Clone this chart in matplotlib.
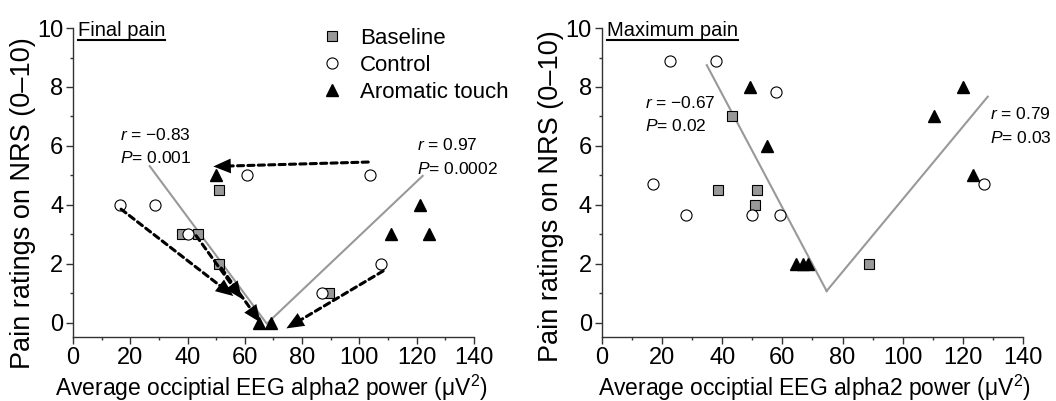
import matplotlib
matplotlib.use("Agg")
import matplotlib.pyplot as plt
from matplotlib.ticker import MultipleLocator
from matplotlib.lines import Line2D

plt.rcParams['font.family'] = ['Liberation Sans', 'DejaVu Sans']
plt.rcParams['mathtext.fontset'] = 'custom'
plt.rcParams['mathtext.rm'] = 'Liberation Sans'
plt.rcParams['mathtext.it'] = 'Liberation Sans:italic'

# ---- Final pain (left panel) ----
fin_base_x = [37.9, 43.7, 51.0, 51.0, 89.4]
fin_base_y = [3.0, 3.0, 4.5, 2.0, 1.0]
fin_ctrl_x = [16.5, 28.5, 40.2, 60.9, 103.7, 107.7, 86.8]
fin_ctrl_y = [4.0, 4.0, 3.0, 5.0, 5.0, 2.0, 1.0]
fin_aroma_x = [49.8, 121.1, 110.9, 124.3, 64.8, 69.0]
fin_aroma_y = [5.0, 4.0, 3.0, 3.0, 0.0, 0.0]
fin_fit_neg_x = [26.8, 67.6]
fin_fit_neg_y = [5.31, -0.03]
fin_fit_pos_x = [68.1, 122.1]
fin_fit_pos_y = [0.0, 4.98]
# arrows: (start x, start y, end x, end y)
fin_arrows = [
    (103.1, 5.45, 49.0, 5.30),
    (16.8, 3.85, 56.0, 0.90),
    (43.0, 2.95, 59.0, 0.80),
    (51.8, 1.85, 65.5, 0.00),
    (108.3, 1.75, 74.5, -0.20),
]
fin_stats = [("−0.83", "0.001", 16.4, 6.37), ("0.97", "0.0002", 120.0, 6.02)]

# ---- Maximum pain (right panel) ----
max_base_x = [43.4, 38.5, 51.5, 50.9, 88.9]
max_base_y = [7.0, 4.5, 4.5, 4.0, 2.0]
max_ctrl_x = [22.7, 37.8, 57.8, 16.9, 28.0, 49.8, 59.2, 127.0]
max_ctrl_y = [8.87, 8.87, 7.84, 4.71, 3.66, 3.66, 3.66, 4.71]
max_aroma_x = [49.2, 55.0, 120.1, 110.3, 123.4, 64.4, 67.0, 68.6]
max_aroma_y = [8.0, 6.0, 8.0, 7.0, 5.0, 2.0, 2.0, 2.0]
max_fit_neg_x = [34.9, 74.7]
max_fit_neg_y = [8.74, 1.07]
max_fit_pos_x = [74.7, 128.2]
max_fit_pos_y = [1.07, 7.67]
max_stats = [("−0.67", "0.02", 14.4, 7.47), ("0.79", "0.03", 129.0, 7.07)]

xlabel = "Average occiptial EEG alpha2 power (μV$^2$)"
ylabel = "Pain ratings on NRS (0–10)"

fig = plt.figure(figsize=(10.56, 4.01), dpi=100)
ax1 = fig.add_axes([0.0691, 0.159, 0.3797, 0.771])
ax2 = fig.add_axes([0.5698, 0.159, 0.3992, 0.771])

sq = dict(marker='s', ms=7, mfc='#999999', mec='black', mew=0.8, ls='none')
ci = dict(marker='o', ms=8, mfc='white', mec='black', mew=0.8, ls='none')
tr = dict(marker='^', ms=9, mfc='black', mec='black', ls='none')
fitstyle = dict(color='#999999', lw=1.5)


def style_axes(ax, title, ylab_x, ylab_y, xlab_x):
    ax.set_xlim(0, 140)
    ax.set_ylim(-0.5, 10)
    ax.xaxis.set_major_locator(MultipleLocator(20))
    ax.xaxis.set_minor_locator(MultipleLocator(10))
    ax.yaxis.set_major_locator(MultipleLocator(2))
    ax.yaxis.set_minor_locator(MultipleLocator(1))
    ax.spines['top'].set_visible(False)
    ax.spines['right'].set_visible(False)
    for s in ('left', 'bottom'):
        ax.spines[s].set_linewidth(1.0)
        ax.spines[s].set_color('#333333')
    ax.tick_params(which='major', length=5, width=1, labelsize=17, pad=2, color='#333333')
    ax.tick_params(which='minor', length=2.5, width=1, color='#333333')
    ax.set_xlabel(xlabel, fontsize=16.5)
    ax.set_ylabel(ylabel, fontsize=19.5)
    ax.xaxis.label.set_va('center')
    ax.yaxis.label.set_va('center')
    ax.xaxis.set_label_coords(xlab_x, -0.163)
    ax.yaxis.set_label_coords(ylab_x, ylab_y)
    t = ax.text(1.7, 9.72, title, fontsize=14.5, va='baseline', ha='left')
    return t


def add_stats(ax, stats):
    for r, p, x, y in stats:
        ax.text(x, y, r"$\mathit{r}$ = " + r, fontsize=12.5, va='center', ha='left', clip_on=False)
        ax.text(x, y - 0.79, r"$\mathit{P}$= " + p, fontsize=12.5, va='center', ha='left', clip_on=False)


def add_arrow(ax, x0, y0, x1, y1):
    # dashed shaft
    ax.annotate('', xy=(x1, y1), xytext=(x0, y0), zorder=4,
                arrowprops=dict(arrowstyle='-', lw=2.2, ls=(0, (2.0, 1.4)), color='black',
                                shrinkA=0, shrinkB=6))
    # filled head, shaft hidden
    ax.annotate('', xy=(x1, y1), xytext=(x0, y0), zorder=4,
                arrowprops=dict(arrowstyle='-|>,head_length=0.9,head_width=0.38',
                                lw=0, color='black', mutation_scale=14,
                                shrinkA=0, shrinkB=0))


# left
ax1.plot(fin_fit_neg_x, fin_fit_neg_y, **fitstyle, zorder=1)
ax1.plot(fin_fit_pos_x, fin_fit_pos_y, **fitstyle, zorder=1)
for x0, y0, x1, y1 in fin_arrows:
    add_arrow(ax1, x0, y0, x1, y1)
ax1.plot(fin_base_x, fin_base_y, **sq, zorder=3, label='Baseline')
ax1.plot(fin_ctrl_x, fin_ctrl_y, **ci, zorder=3, label='Control')
ax1.plot(fin_aroma_x, fin_aroma_y, **tr, zorder=3, label='Aromatic touch')
add_stats(ax1, fin_stats)
t1 = style_axes(ax1, 'Final pain', -0.125, 0.434, 0.494)
ax1.legend(loc='upper left', bbox_to_anchor=(0.60, 1.03), frameon=False, fontsize=16,
           handlelength=0.9, handletextpad=0.8, labelspacing=0.28, borderaxespad=0)

# right
ax2.plot(max_fit_neg_x, max_fit_neg_y, **fitstyle, zorder=1)
ax2.plot(max_fit_pos_x, max_fit_pos_y, **fitstyle, zorder=1)
ax2.plot(max_base_x, max_base_y, **sq, zorder=3)
ax2.plot(max_ctrl_x, max_ctrl_y, **ci, zorder=3)
ax2.plot(max_aroma_x, max_aroma_y, **tr, zorder=3)
add_stats(ax2, max_stats)
t2 = style_axes(ax2, 'Maximum pain', -0.12, 0.457, 0.504)

# underline the panel titles
fig.canvas.draw()
inv = fig.transFigure.inverted()
for t in (t1, t2):
    bb = t.get_window_extent()
    (fx0, fy0), (fx1, _) = inv.transform([(bb.x0, bb.y0), (bb.x1, bb.y0)])
    fig.add_artist(Line2D([fx0, fx1], [fy0 + 0.001, fy0 + 0.001], color='black', lw=1.5))

fig.savefig('out.png', dpi=100)
